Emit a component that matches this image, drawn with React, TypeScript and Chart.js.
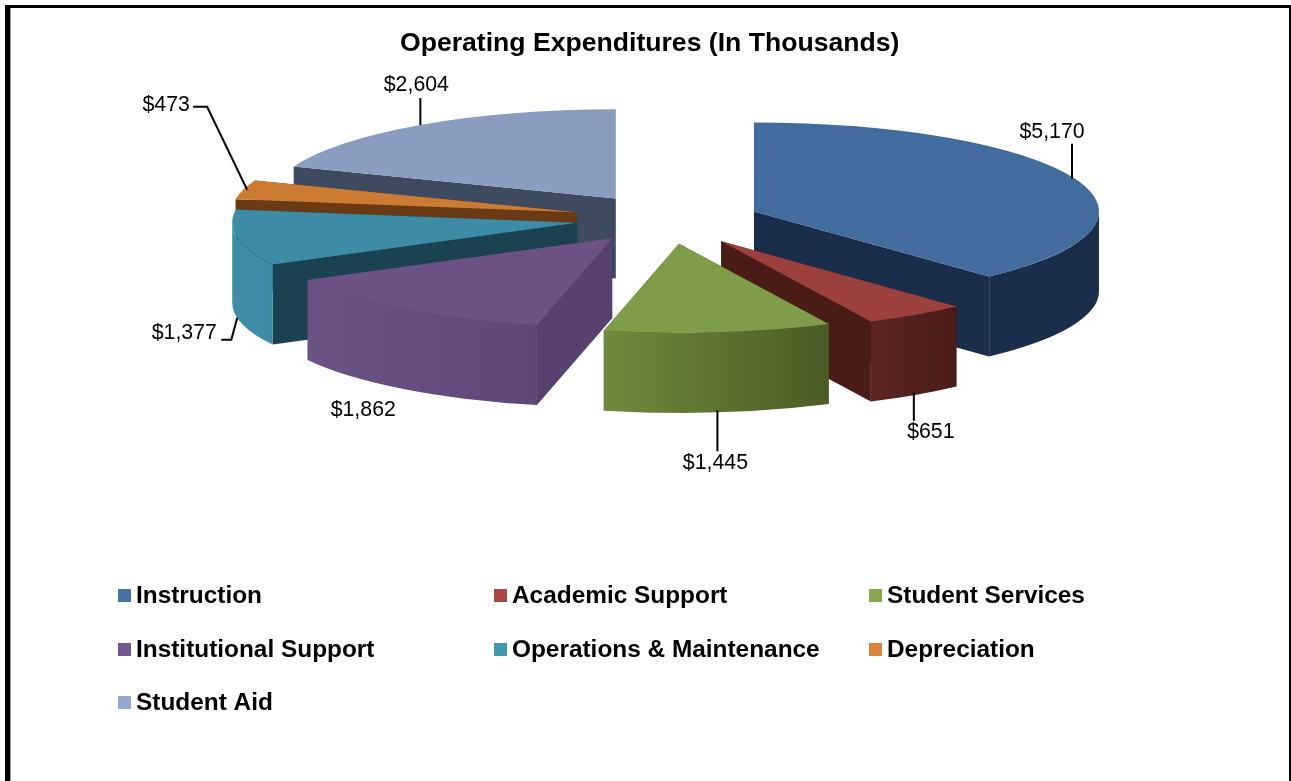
import React, { useEffect, useRef } from "react";
import { Chart, registerables } from "chart.js";

Chart.register(...registerables);

const FONT = '"Liberation Sans", Arial, sans-serif';

const titleText = "Operating Expenditures (In Thousands)";
const categories = ["Instruction", "Academic Support", "Student Services", "Institutional Support", "Operations & Maintenance", "Depreciation", "Student Aid"];
const amounts = [5170, 651, 1445, 1862, 1377, 473, 2604];
const explode = [101, 105, 105, 79, 84, 86, 78];
const topColors = ["#426B9E", "#9C403D", "#7F9D49", "#6A5285", "#3D8BA5", "#CC7B34", "#8A9DC0"];
const legendColors = ["#4572A7", "#AA4643", "#89A54E", "#71588F", "#4198AF", "#DB843D", "#93A9CF"];
const cutColors = ["#1A2D4A", "#4A1C18", "#4A5C24", "#57426F", "#1A4250", "#693A14", "#3E4A60"];
const rimLeft = ["#1A2D4A", "#5C2522", "#6F8B3D", "#6A5285", "#3F8DA7", "#7A4418", "#3E4A60"];
const rimRight = ["#1A2D4A", "#4A1C18", "#4A5C24", "#5E4878", "#3D8BA5", "#693A14", "#3E4A60"];
const paintOrder = [6, 5, 4, 0, 3, 1, 2];
const sliceNudge = [[0, 3], [2, 1], [7, -1], [0, 4], [0, 1], [0, 0], [0, -3]];
const labelOffsets = [[-23, -47], [15, 37], [-3, 51], [-40, 21], [-53, 15], [-77, -85], [-4, -40]];
const leaderPaths = [
  [[-3, 0], [-3, -35]],
  [[-2, -2], [-2, 26]],
  [[-1, -2], [-1, 39]],
  [],
  [[0, 0], [-6, 22], [-16, 22]],
  [[4, 0], [-36, -83], [-50, -83]],
  [[0, 0], [0, -27]],
];
const legendColumns = [118, 494, 869];
const legendRows = [595, 649, 702];

const SQUASH = 0.258;
const DEPTH = 80;

const money = (v: number) => "$" + v.toLocaleString("en-US");

const pie3d = {
  id: "pie3d",
  beforeDraw(chart: any) {
    const { ctx, width } = chart;
    ctx.save();
    ctx.fillStyle = "#fff";
    ctx.fillRect(0, 0, width, chart.height);
    ctx.fillStyle = "#000";
    ctx.fillRect(5, 5, width - 5, 3);
    ctx.fillRect(5, 5, 5, chart.height - 5);
    ctx.fillRect(width - 2, 5, 2, chart.height - 5);
    ctx.fillStyle = "#999";
    ctx.fillRect(10, 8, 1, chart.height - 8);
    ctx.restore();
  },
  beforeDatasetsDraw(chart: any) {
    const { ctx } = chart;
    const arcs = chart.getDatasetMeta(0).data;

    const frame = (arc: any, i: number) => {
      const mid = (arc.startAngle + arc.endAngle) / 2;
      const off = explode[i];
      const r = arc.outerRadius;
      const dx = Math.cos(mid) * off + sliceNudge[i][0];
      const dy = Math.sin(mid) * off * SQUASH + sliceNudge[i][1];
      return { mid, r, dx, dy, ax: arc.x + dx, ay: arc.y + dy };
    };

    for (const i of paintOrder) {
      const arc = arcs[i];
      const { r, ax, ay, dx, dy } = frame(arc, i);
      const edge = (a: number) => [ax + r * Math.cos(a), ay + r * SQUASH * Math.sin(a)];

      ctx.save();
      // cut walls
      ctx.fillStyle = cutColors[i];
      for (const a of [arc.startAngle, arc.endAngle]) {
        const [px, py] = edge(a);
        ctx.beginPath();
        ctx.moveTo(ax, ay);
        ctx.lineTo(px, py);
        ctx.lineTo(px, py + DEPTH);
        ctx.lineTo(ax, ay + DEPTH);
        ctx.closePath();
        ctx.fill();
      }
      // rim, front half of the ellipse only
      const s = Math.max(arc.startAngle, 0);
      const e = Math.min(arc.endAngle, Math.PI);
      if (e > s) {
        const xs = [edge(s)[0], edge(e)[0]];
        const g = ctx.createLinearGradient(Math.min(...xs), 0, Math.max(...xs), 0);
        g.addColorStop(0, rimLeft[i]);
        g.addColorStop(1, rimRight[i]);
        ctx.fillStyle = g;
        ctx.beginPath();
        ctx.ellipse(ax, ay, r, r * SQUASH, 0, s, e);
        ctx.ellipse(ax, ay + DEPTH, r, r * SQUASH, 0, e, s, true);
        ctx.closePath();
        ctx.fill();
      }
      ctx.restore();

      // top face: the library's own arc, moved out and squashed
      ctx.save();
      ctx.translate(dx, dy + arc.y);
      ctx.scale(1, SQUASH);
      ctx.translate(0, -arc.y);
      arc.draw(ctx);
      ctx.restore();
    }

    // data labels and leader lines
    ctx.save();
    ctx.font = `21.3px ${FONT}`;
    ctx.fillStyle = "#000";
    ctx.strokeStyle = "#000";
    ctx.lineWidth = 2;
    ctx.textAlign = "center";
    ctx.textBaseline = "middle";
    arcs.forEach((arc: any, i: number) => {
      const { mid, r, ax, ay } = frame(arc, i);
      const front = Math.sin(mid) > 0;
      const px = ax + r * Math.cos(mid);
      const py = ay + r * SQUASH * Math.sin(mid) + (front ? DEPTH : 0);
      const path = leaderPaths[i];
      if (path.length) {
        ctx.beginPath();
        path.forEach(([x, y], k) => (k ? ctx.lineTo(px + x, py + y) : ctx.moveTo(px + x, py + y)));
        ctx.stroke();
      }
      ctx.fillText(money(amounts[i]), px + labelOffsets[i][0], py + labelOffsets[i][1]);
    });
    ctx.restore();

    // legend
    ctx.save();
    ctx.font = `bold 24.4px ${FONT}`;
    ctx.textBaseline = "middle";
    ctx.textAlign = "left";
    categories.forEach((name, i) => {
      const x = legendColumns[i % 3];
      const y = legendRows[Math.floor(i / 3)];
      ctx.fillStyle = legendColors[i];
      ctx.fillRect(x, y - 6, 13, 13);
      ctx.fillStyle = "#000";
      ctx.fillText(name, x + 18, y + 1);
    });
    ctx.restore();
    return false;
  },
};

export default function App() {
  const ref = useRef<HTMLCanvasElement>(null);
  useEffect(() => {
    const chart = new Chart(ref.current as HTMLCanvasElement, {
      type: "pie",
      data: {
        labels: categories,
        datasets: [{
          data: amounts,
          backgroundColor: topColors,
          borderWidth: 0,
          hoverOffset: 0,
        }],
      },
      options: {
        responsive: false,
        animation: false,
        radius: 345,
        layout: { padding: { left: 400, right: 371, top: 0, bottom: 405 } },
        plugins: {
          legend: { display: false },
          tooltip: { enabled: false },
          title: {
            display: true,
            text: titleText,
            align: "start",
            color: "#000",
            font: { family: FONT, size: 26.6, weight: "bold" },
            padding: { top: 28, bottom: 0 },
          },
        },
      },
      plugins: [pie3d],
    } as any);
    return () => chart.destroy();
  }, []);
  return (
    <div style={{ position: "fixed", left: 0, top: 0, width: 1291, height: 781, overflow: "hidden" }}>
      <canvas ref={ref} width={1291} height={781} style={{ display: "block" }} />
    </div>
  );
}
